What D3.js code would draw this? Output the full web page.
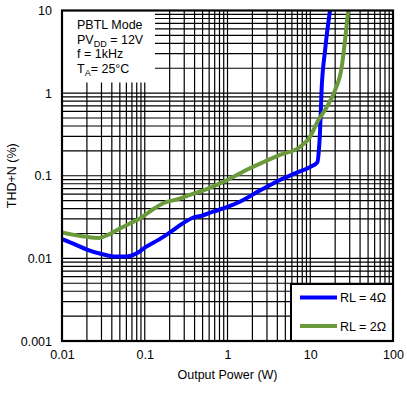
<!DOCTYPE html>
<html>
<head>
<meta charset="utf-8">
<script src="https://cdn.jsdelivr.net/npm/d3@7"></script>
<style>
  body { margin: 0; background: #fff; }
  text { font-family: "Liberation Sans", Arial, sans-serif; fill: #000; }
</style>
</head>
<body>
<svg id="chart" width="407" height="401"></svg>
<script>
// readings
const xTicks = [0.01, 0.1, 1, 10, 100];
const yTicks = [0.001, 0.01, 0.1, 1, 10];
const xTickLabels = ["0.01", "0.1", "1", "10", "100"];
const yTickLabels = ["0.001", "0.01", "0.1", "1", "10"];

const power4 = [0.01, 0.015, 0.02, 0.03, 0.045, 0.06, 0.08, 0.1, 0.15, 0.2, 0.27, 0.37, 0.5, 0.67, 1, 1.41, 2.5, 4.3, 7, 10, 12.2, 12.7, 13.1, 13.7, 15.1, 17.3];
const thd4 = [0.0171, 0.0145, 0.0128, 0.0113, 0.0105, 0.0105, 0.0115, 0.0135, 0.017, 0.0205, 0.0254, 0.0306, 0.033, 0.0367, 0.042, 0.0485, 0.0668, 0.0889, 0.11, 0.128, 0.146, 0.2, 0.327, 1.08, 3.28, 10];

const power2 = [0.01, 0.015, 0.02, 0.028, 0.038, 0.05, 0.073, 0.0877, 0.12, 0.167, 0.25, 0.35, 0.5, 0.81, 1.2, 1.87, 2.47, 4.3, 7.5, 9.9, 12.5, 15.8, 19.9, 24, 26.3, 28.8];
const thd2 = [0.0206, 0.019, 0.0182, 0.0177, 0.0198, 0.023, 0.0277, 0.0305, 0.038, 0.0465, 0.052, 0.0587, 0.066, 0.081, 0.098, 0.123, 0.14, 0.179, 0.223, 0.294, 0.469, 0.676, 1.08, 2.07, 4.34, 10];

const seriesNames = ["RL = 4Ω", "RL = 2Ω"];
const seriesColors = ["#0000ff", "#6a9a3a"];
// note lines as [main, subscript, rest]
const noteLines = [["PBTL Mode", "", ""], ["PV", "DD", " = 12V"], ["f = 1kHz", "", ""], ["T", "A", "= 25°C"]];

const svg = d3.select("#chart");
const pLeft = 62, pRight = 393, pTop = 10.5, pBottom = 341;

const x = d3.scaleLog().domain([0.01, 100]).range([pLeft, pRight]);
const y = d3.scaleLog().domain([0.001, 10]).range([pBottom, pTop]);

// grid lines on every 1..9 step of each decade
const gx = [], gy = [];
for (let e = -2; e < 2; e++) for (let m = 1; m < 10; m++) gx.push(m * Math.pow(10, e));
for (let e = -3; e < 1; e++) for (let m = 1; m < 10; m++) gy.push(m * Math.pow(10, e));

const grid = svg.append("g").attr("stroke", "#000").attr("stroke-width", 1.2);
grid.selectAll("line.v").data(gx).join("line").attr("class", "v")
  .attr("x1", d => x(d)).attr("x2", d => x(d))
  .attr("y1", pTop).attr("y2", pBottom);
grid.selectAll("line.h").data(gy).join("line").attr("class", "h")
  .attr("y1", d => y(d)).attr("y2", d => y(d))
  .attr("x1", pLeft).attr("x2", pRight);

// white note box over the grid
svg.append("rect").attr("x", pLeft).attr("y", pTop)
  .attr("width", 93).attr("height", 72).attr("fill", "#fff");

const note = svg.append("g").attr("font-size", 12.5);
noteLines.forEach(function (p, i) {
  const t = note.append("text").attr("x", 77).attr("y", 29 + i * 14.5);
  t.append("tspan").text(p[0]);
  if (p[1]) {
    t.append("tspan").attr("font-size", 9).attr("dy", 3).text(p[1]);
    t.append("tspan").attr("dy", -3).text(p[2]);
  }
});

// curves
svg.append("clipPath").attr("id", "plot").append("rect")
  .attr("x", pLeft).attr("y", pTop).attr("width", pRight - pLeft).attr("height", pBottom - pTop);

const line = d3.line().x(d => x(d[0])).y(d => y(d[1])).curve(d3.curveMonotoneX);
const series = [d3.zip(power4, thd4), d3.zip(power2, thd2)];
svg.append("g").attr("clip-path", "url(#plot)")
  .selectAll("path").data(series).join("path")
  .attr("d", line)
  .attr("fill", "none")
  .attr("stroke", (d, i) => seriesColors[i])
  .attr("stroke-width", 4);

// legend
const lg = svg.append("g");
lg.append("rect").attr("x", 291).attr("y", 284).attr("width", pRight - 291).attr("height", pBottom - 284)
  .attr("fill", "#fff").attr("stroke", "#000").attr("stroke-width", 2);
seriesNames.forEach(function (name, i) {
  const ly = 297.5 + i * 28.5;
  lg.append("line").attr("x1", 300).attr("x2", 337).attr("y1", ly).attr("y2", ly)
    .attr("stroke", seriesColors[i]).attr("stroke-width", 4);
  lg.append("text").attr("x", 340).attr("y", ly + 4.5).attr("font-size", 12.5).text(name);
});

// frame
svg.append("rect").attr("x", pLeft).attr("y", pTop).attr("width", pRight - pLeft).attr("height", pBottom - pTop)
  .attr("fill", "none").attr("stroke", "#000").attr("stroke-width", 2.2);

// axes
const xAxis = d3.axisBottom(x).tickValues(xTicks).tickSize(0).tickPadding(9)
  .tickFormat((d, i) => xTickLabels[i]);
const yAxis = d3.axisLeft(y).tickValues(yTicks).tickSize(0).tickPadding(10)
  .tickFormat((d, i) => yTickLabels[i]);
svg.append("g").attr("transform", `translate(0,${pBottom})`).call(xAxis)
  .call(g => g.select(".domain").remove())
  .selectAll("text").attr("font-size", 12.5).attr("fill", "#000");
svg.append("g").attr("transform", `translate(${pLeft},0)`).call(yAxis)
  .call(g => g.select(".domain").remove())
  .selectAll("text").attr("font-size", 12.5).attr("fill", "#000");

svg.append("text").attr("x", (pLeft + pRight) / 2).attr("y", 379)
  .attr("text-anchor", "middle").attr("font-size", 12.5).text("Output Power (W)");
svg.append("text").attr("transform", `translate(16,${(pTop + pBottom) / 2}) rotate(-90)`)
  .attr("text-anchor", "middle").attr("font-size", 12.5).text("THD+N (%)");
</script>
</body>
</html>
